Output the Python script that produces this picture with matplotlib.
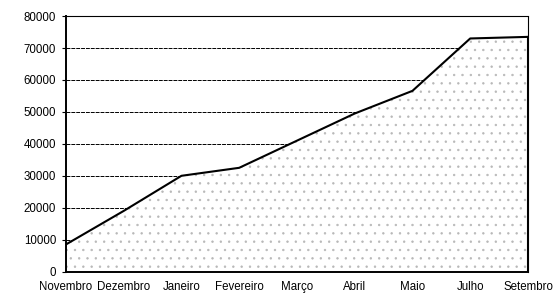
import numpy as np
import matplotlib.pyplot as plt

meses = ['Novembro', 'Dezembro', 'Janeiro', 'Fevereiro', 'Março',
         'Abril', 'Maio', 'Julho', 'Setembro']
valores = [8500, 19000, 30000, 32500, 41000, 49500, 56600, 73000, 73500]
yticks = [0, 10000, 20000, 30000, 40000, 50000, 60000, 70000, 80000]

plt.rcParams['font.family'] = ['Liberation Sans', 'DejaVu Sans']
plt.rcParams['hatch.color'] = '#b8b8b8'
plt.rcParams['hatch.linewidth'] = 0.5

fig = plt.figure(figsize=(5.54, 2.93), dpi=100)
ax = fig.add_axes([0.119, 0.073, 0.834, 0.872])

x = np.arange(len(meses))
ax.fill_between(x, valores, 0, facecolor='white', edgecolor='none', hatch='..')
ax.plot(x, valores, color='black', lw=1.5)
ax.plot([x[-1], x[-1]], [0, valores[-1]], color='black', lw=1.5)

ax.set_xlim(0, len(meses) - 1)
ax.set_ylim(0, 80000)
ax.set_yticks(yticks)
ax.set_yticklabels([str(v) for v in yticks], fontsize=8.3)
ax.yaxis.grid(True, color='black', lw=0.7, ls=(0, (4, 1)))
ax.set_axisbelow(True)

ax.set_xticks(x)
ax.set_xticklabels(meses, fontsize=8.3)
ax.tick_params(axis='x', length=0, pad=7)
ax.tick_params(axis='y', length=3, width=0.8, pad=4)

for s in ['left', 'bottom']:
    ax.spines[s].set_linewidth(1.4)
ax.spines['right'].set_linewidth(0.8)
ax.spines['right'].set_linestyle((0, (2, 1)))
ax.spines['top'].set_linewidth(0.8)
ax.spines['top'].set_linestyle((0, (4, 1)))

fig.savefig('out.png', dpi=100)
